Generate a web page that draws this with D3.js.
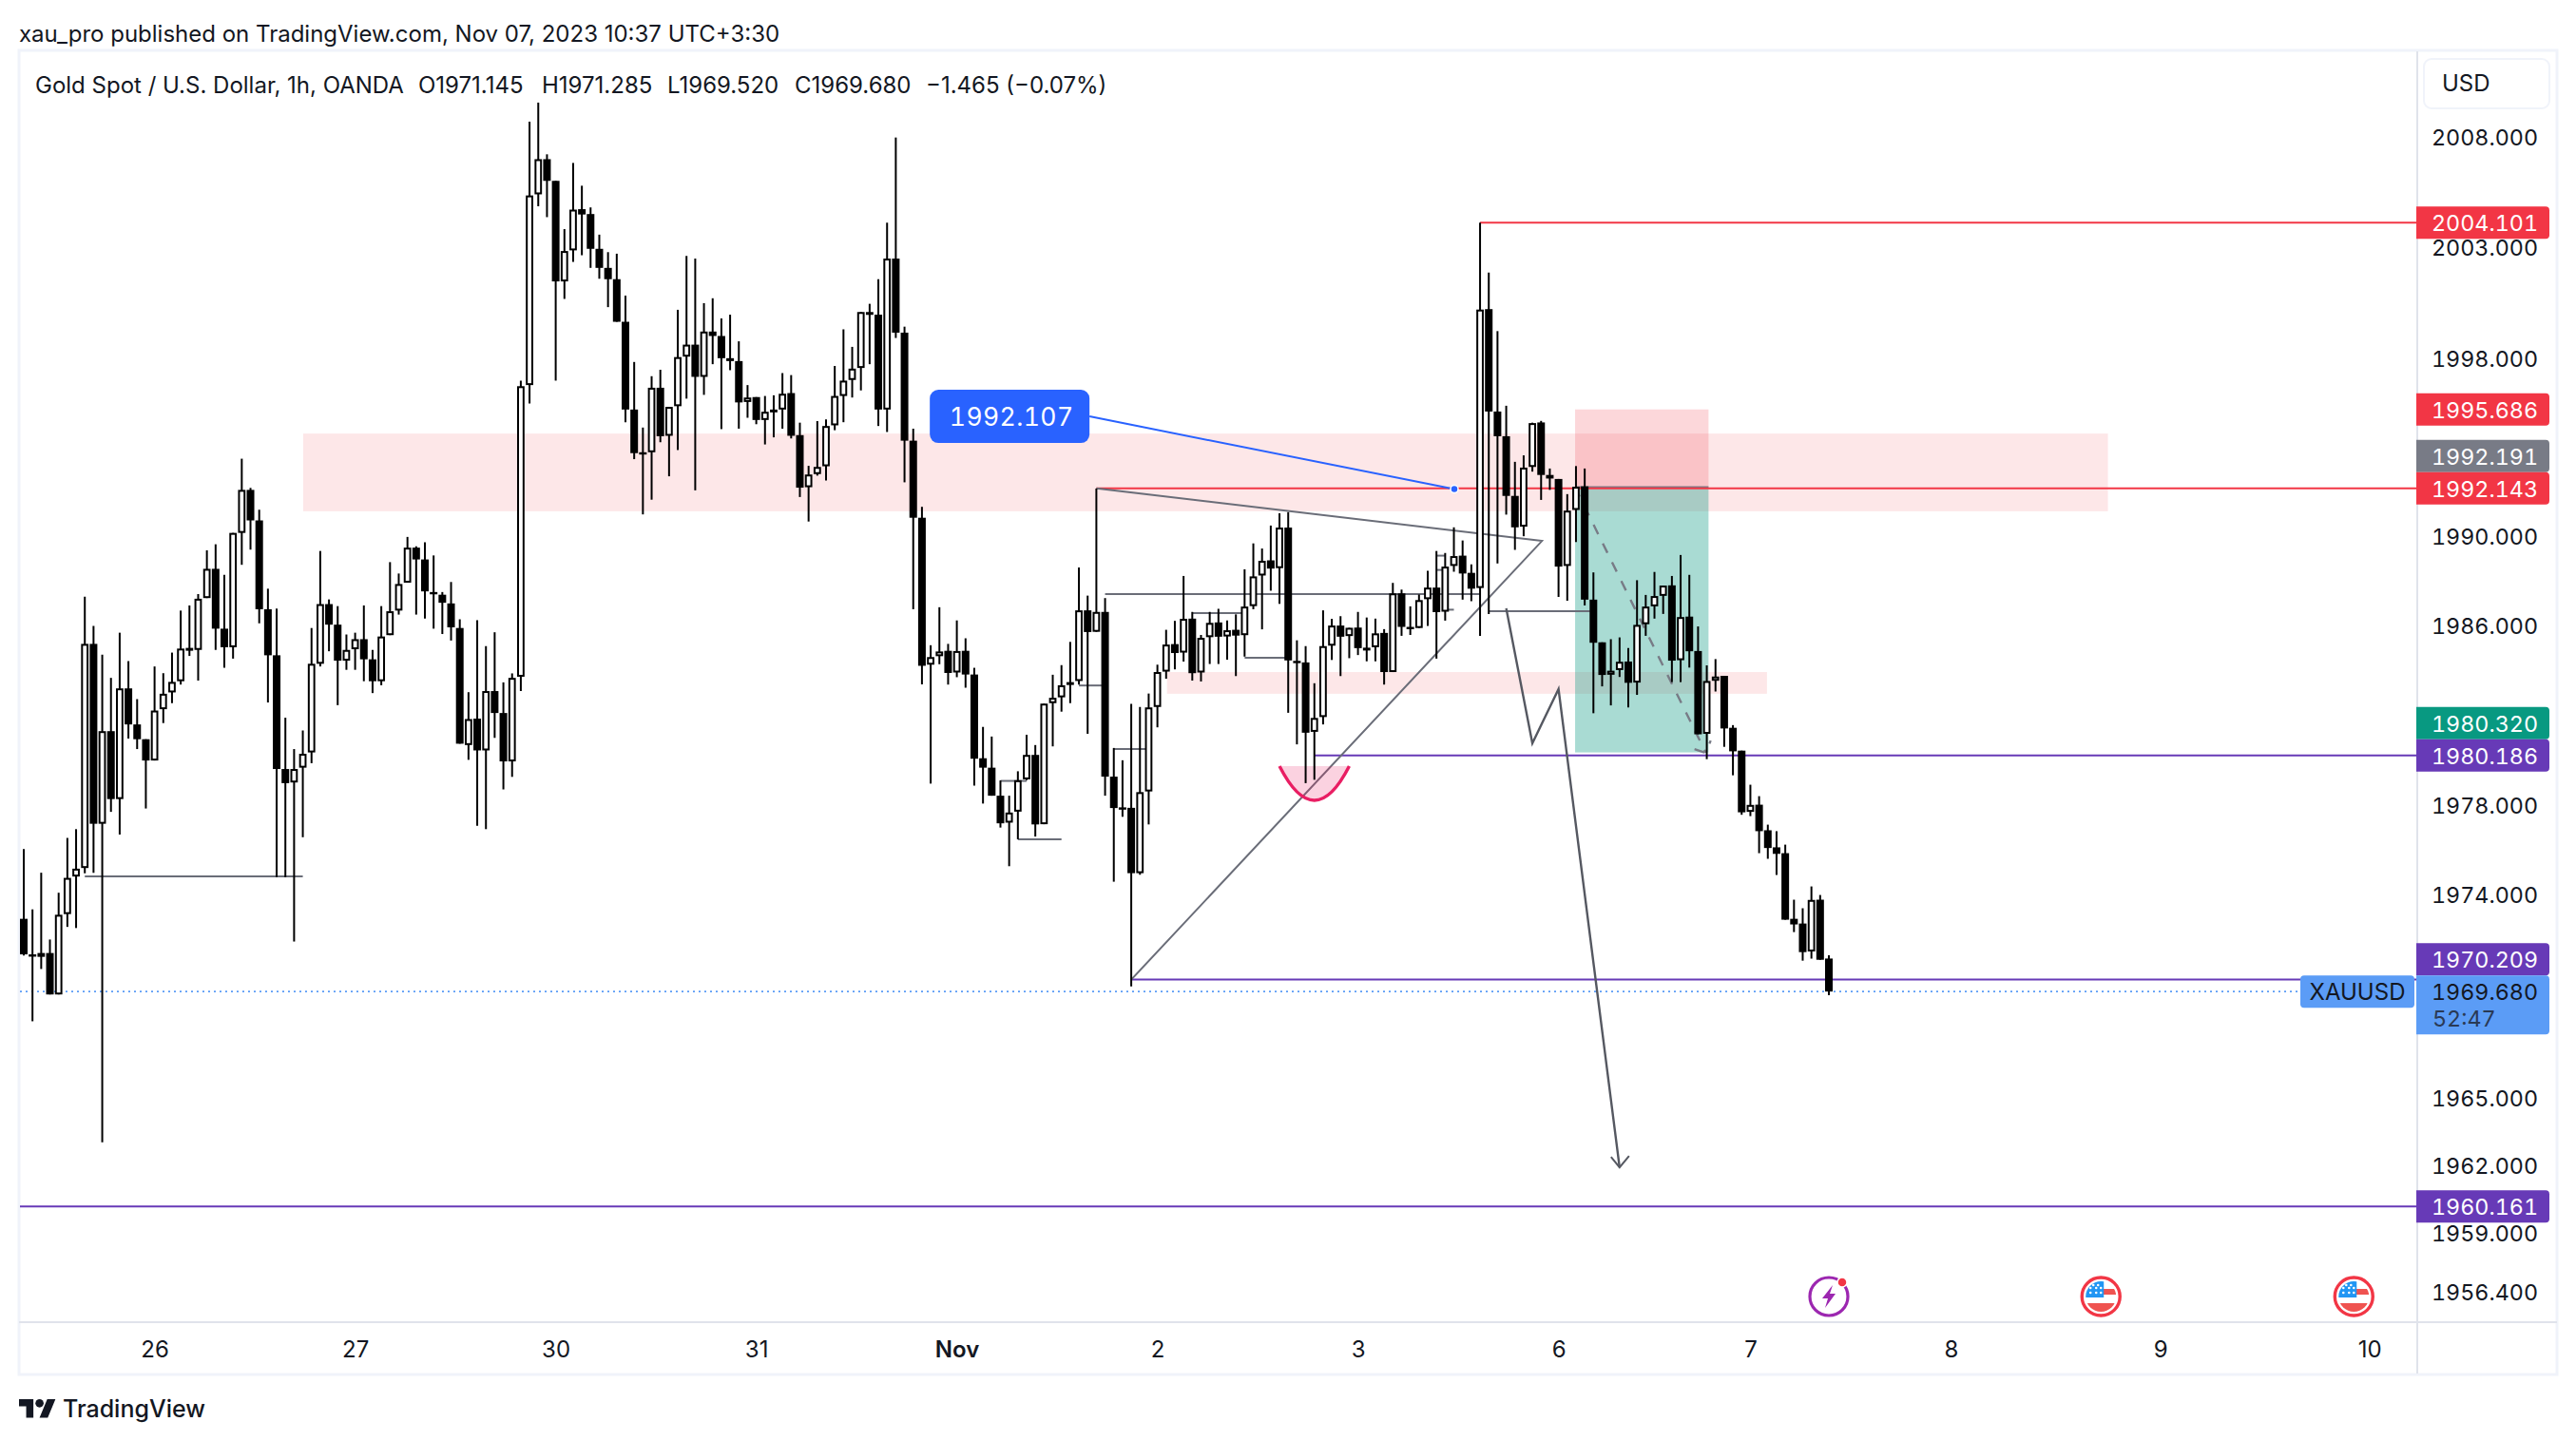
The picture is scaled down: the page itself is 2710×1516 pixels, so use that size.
<!DOCTYPE html>
<html>
<head>
<meta charset="utf-8">
<script src="https://cdn.jsdelivr.net/npm/d3@7/dist/d3.min.js"></script>
<style>
  html, body { margin: 0; padding: 0; background: #fff; }
  svg { display: block; }
  text { font-family: Inter, "Noto Sans", sans-serif; }
  .num { font-variant-numeric: tabular-nums; }
</style>
</head>
<body>
<div id="viz-container"></div>
<script>
// Hourly candles, oldest first
const opens = [
  1972.91,1971.33,1971.22,1971.39,1969.55,1973.12,1974.79,1975.17,1985.17,1977.14,
  1981.27,1978.24,1983.18,1981.57,1980.91,1979.96,1982.25,1983.00,1983.50,1984.90,
  1984.90,1987.22,1988.53,1985.85,1985.02,1990.14,1992.07,1990.70,1986.72,1984.66,
  1979.58,1978.98,1979.64,1980.32,1984.28,1986.95,1986.03,1984.42,1984.93,1985.38,
  1984.48,1983.50,1985.56,1986.66,1987.91,1989.48,1988.95,1987.49,1987.37,1986.98,
  1985.88,1980.65,1981.83,1980.41,1983.06,1982.08,1979.92,1983.70,1996.78,2005.38,
  2006.97,2005.99,2001.45,2002.85,2004.71,2004.49,2002.92,2002.06,2001.55,1999.63,
  1995.68,1993.76,1993.76,1996.66,1994.50,1995.83,1998.06,1998.60,1997.15,1999.19,
  1998.99,1997.99,1997.86,1996.02,1996.24,1995.21,1995.61,1995.68,1996.42,1994.53,
  1992.19,1992.78,1993.13,1994.97,1996.29,1997.01,1997.55,1999.98,1999.95,1995.68,
  2002.48,1999.14,1994.28,1990.82,1984.24,1984.62,1984.86,1983.89,1984.86,1983.80,
  1980.06,1979.64,1978.39,1977.19,1977.68,1979.12,1980.21,1977.12,1982.52,1982.78,
  1983.34,1983.51,1986.67,1985.71,1986.60,1979.24,1977.87,1977.85,1974.94,1978.58,
  1982.35,1983.93,1985.16,1984.78,1986.30,1983.89,1985.47,1986.13,1985.50,1985.80,
  1985.56,1986.86,1988.23,1988.91,1988.56,1990.38,1984.41,1984.34,1981.24,1981.90,
  1985.09,1985.99,1985.52,1985.90,1984.95,1985.02,1985.66,1983.91,1987.43,1985.93,
  1985.88,1987.17,1987.69,1986.61,1988.66,1989.12,1988.35,1987.67,2000.20,1995.59,
  1994.48,1991.80,1990.42,1993.10,1995.10,1992.74,1992.56,1988.66,1991.17,1992.23,
  1987.15,1985.24,1983.79,1984.00,1984.38,1983.44,1986.05,1986.85,1987.32,1987.79,
  1984.44,1986.39,1984.85,1981.15,1983.52,1983.74,1981.42,1980.40,1977.67,1977.99,
  1976.85,1976.09,1975.83,1972.91,1972.70,1971.46,1973.76,1971.145
];
const highs = [
  1976.01,1973.33,1974.96,1971.99,1974.07,1976.51,1976.90,1987.28,1985.97,1984.69,
  1983.65,1985.67,1984.40,1982.70,1980.91,1984.16,1983.86,1984.78,1986.66,1986.89,
  1987.40,1989.36,1989.63,1988.26,1990.14,1993.47,1992.16,1991.18,1987.64,1986.75,
  1981.87,1980.47,1981.30,1985.88,1989.33,1987.16,1986.86,1985.59,1985.67,1986.89,
  1984.90,1986.86,1988.83,1988.32,1989.96,1989.54,1989.72,1989.13,1987.49,1987.94,
  1986.27,1983.01,1986.23,1985.07,1985.69,1983.45,1983.85,1996.98,2008.67,2009.53,
  2007.19,2005.99,2003.81,2006.80,2005.77,2004.79,2003.56,2002.77,2002.70,2000.81,
  1997.82,1994.87,1997.18,1997.47,1995.80,2000.17,2002.60,2002.48,2000.47,2000.69,
  1999.78,1999.95,1998.75,1996.78,1996.24,1996.29,1996.32,1997.32,1997.23,1995.09,
  1993.15,1995.16,1995.24,1997.64,1999.29,1998.50,2000.07,2000.44,2001.55,2004.10,
  2007.95,1999.41,1994.82,1991.31,1985.11,1986.81,1985.17,1986.22,1985.42,1984.10,
  1981.46,1981.03,1979.07,1978.39,1979.48,1981.11,1980.65,1982.50,1983.79,1984.22,
  1985.26,1988.59,1987.33,1992.13,1987.22,1980.52,1979.97,1982.49,1982.35,1982.95,
  1984.24,1985.80,1986.20,1988.21,1986.60,1985.57,1986.60,1986.74,1986.22,1986.49,
  1988.51,1989.67,1989.44,1990.47,1991.02,1991.07,1985.33,1985.07,1983.41,1986.67,
  1986.29,1986.41,1985.89,1986.60,1986.35,1986.30,1985.83,1987.90,1987.60,1986.85,
  1987.38,1988.44,1989.33,1989.24,1990.39,1989.80,1988.73,2004.10,2001.85,1999.21,
  1995.85,1993.33,1993.62,1995.09,1995.17,1993.03,1992.56,1991.88,1993.14,1993.03,
  1988.37,1985.24,1985.38,1985.46,1984.98,1988.02,1987.36,1988.39,1987.78,1988.21,
  1989.15,1988.26,1985.95,1984.21,1984.49,1983.74,1981.54,1980.40,1978.88,1978.37,
  1977.10,1976.81,1976.21,1973.76,1973.38,1974.35,1973.97,1971.285
];
const lows = [
  1971.28,1968.36,1970.68,1969.55,1969.55,1972.55,1972.50,1974.93,1974.96,1963.00,
  1977.67,1976.66,1980.94,1980.47,1977.82,1979.96,1981.63,1982.52,1983.35,1984.63,
  1983.53,1987.22,1984.90,1984.10,1984.51,1988.71,1989.39,1986.09,1982.55,1974.76,
  1974.76,1971.90,1976.54,1979.84,1984.16,1984.84,1982.43,1984.01,1984.01,1983.50,
  1982.97,1983.32,1985.56,1986.48,1987.91,1986.48,1986.30,1985.85,1985.61,1985.32,
  1980.71,1979.99,1977.05,1976.90,1980.97,1978.67,1979.23,1983.06,1995.95,2004.84,
  2004.35,1996.98,2000.66,2002.33,2002.63,2002.06,2001.57,2000.29,1999.63,1995.11,
  1993.45,1990.97,1991.63,1994.21,1992.68,1993.86,1996.17,1992.05,1996.34,1997.72,
  1994.80,1997.45,1994.82,1995.31,1995.02,1994.11,1994.43,1994.82,1994.38,1991.75,
  1990.65,1992.71,1992.49,1994.75,1995.11,1996.22,1996.54,1997.72,1994.94,1994.67,
  1998.90,1992.41,1986.72,1983.36,1978.93,1984.26,1983.35,1983.68,1983.21,1978.84,
  1978.04,1978.39,1976.97,1975.25,1976.45,1979.08,1976.57,1977.12,1980.59,1982.14,
  1982.52,1983.35,1981.15,1985.71,1978.39,1974.56,1977.45,1969.91,1974.87,1977.11,
  1981.44,1983.61,1984.03,1984.38,1983.53,1983.49,1984.27,1984.27,1984.46,1983.73,
  1984.60,1986.72,1985.82,1987.55,1986.96,1982.09,1980.68,1978.95,1979.10,1981.57,
  1984.45,1983.73,1984.53,1984.67,1984.39,1984.39,1983.35,1983.91,1985.53,1985.57,
  1985.88,1985.97,1984.51,1986.21,1988.40,1987.15,1987.08,1985.53,1986.51,1988.77,
  1990.96,1989.38,1989.99,1992.89,1991.62,1992.07,1987.27,1987.10,1989.73,1986.89,
  1982.07,1983.27,1982.42,1983.69,1982.33,1982.89,1985.53,1986.30,1986.51,1983.46,
  1983.46,1984.11,1981.13,1980.02,1983.04,1980.57,1979.30,1977.54,1977.48,1975.83,
  1975.58,1974.86,1972.87,1972.32,1971.05,1971.14,1971.09,1969.52
];
const closes = [
  1971.33,1971.25,1971.39,1969.55,1973.09,1974.73,1975.14,1985.17,1977.14,1981.27,
  1978.24,1983.18,1981.57,1980.91,1979.96,1982.19,1982.94,1983.47,1984.96,1984.99,
  1987.19,1988.53,1985.85,1985.02,1990.14,1992.07,1990.70,1986.72,1984.66,1979.58,
  1978.95,1979.58,1980.26,1984.28,1986.95,1986.03,1984.42,1984.90,1985.38,1984.48,
  1983.50,1985.50,1986.63,1987.85,1989.48,1988.95,1987.52,1987.40,1987.01,1985.91,
  1980.71,1981.81,1980.41,1983.06,1982.08,1979.92,1983.65,1996.73,2005.33,2006.97,
  2005.99,2001.45,2002.82,2004.69,2004.47,2002.92,2002.06,2001.55,1999.63,1995.68,
  1993.72,1993.72,1996.66,1994.48,1995.80,1998.04,1998.60,1997.15,1999.19,1998.99,
  1997.99,1997.86,1996.00,1996.22,1995.21,1995.58,1995.68,1996.39,1994.50,1992.17,
  1992.76,1993.10,1994.94,1996.29,1996.98,1997.52,2000.07,2000.07,1995.68,2002.48,
  1999.14,1994.28,1990.82,1984.19,1984.58,1984.83,1983.87,1984.85,1983.80,1980.04,
  1979.64,1978.39,1977.16,1977.64,1979.08,1980.21,1977.11,1982.50,1982.76,1983.32,
  1983.46,1986.67,1985.70,1986.60,1979.24,1977.84,1977.82,1974.94,1978.55,1982.33,
  1983.91,1985.14,1984.76,1986.29,1983.86,1985.44,1986.11,1985.49,1985.78,1985.54,
  1986.84,1988.19,1988.89,1988.54,1990.38,1984.43,1984.34,1981.20,1981.86,1985.07,
  1985.99,1985.49,1985.89,1984.98,1985.00,1985.64,1983.91,1987.43,1985.93,1985.86,
  1987.13,1987.69,1986.59,1988.63,1989.10,1988.32,1987.64,2000.18,1995.59,1994.48,
  1991.80,1990.39,1993.07,1995.07,1992.74,1992.58,1988.63,1991.14,1992.21,1987.15,
  1985.22,1983.78,1983.97,1984.37,1983.43,1986.02,1986.84,1987.31,1987.78,1984.42,
  1986.37,1984.84,1981.13,1983.51,1983.71,1981.39,1980.37,1977.65,1977.98,1976.81,
  1976.06,1975.80,1972.87,1972.66,1971.43,1973.75,1971.09,1969.68
];

// Axis labels (the ticks that the price tags hide are left out)
const priceTicks = [2008, 2003, 1998, 1990, 1986, 1978, 1974, 1965, 1962, 1959, 1956.4];
const dayBars = [15, 38, 61, 84, 107, 130, 153, 176, 198, 221, 245, 269];
const dayLabels = ['26', '27', '30', '31', 'Nov', '2', '3', '6', '7', '8', '9', '10'];

// Price tags on the right scale; a tag marked true sits on top of the next one
const tagPrices = [2004.101, 1995.686, 1992.191, 1992.143, 1980.32, 1980.186, 1970.209, 1960.161];
const tagColors = ['#f23645', '#f23645', '#787b86', '#f23645', '#089981', '#673ab7', '#673ab7', '#673ab7'];
const tagPushed = [false, false, true, false, true, false, true, false];

// Drawings: bar index + price
const zones = [[32.05, 239.0, 1994.6, 1991.11], [131.1, 199.9, 1983.91, 1982.94]];
const redLevels = [[167, 2004.101], [123, 1992.143]];
const purpleLevels = [[148, 1980.186], [127, 1970.209], [-3, 1960.161]];
const grayRays = [
  [7, 32, 1974.8], [124, 167, 1987.4], [134, 140, 1986.55], [140, 145, 1984.55],
  [121, 124, 1983.31], [125, 129, 1980.47], [112, 115, 1979.05], [114, 119, 1976.45],
  [168, 179.6, 1986.63], [162, 163, 1989.12], [162, 163, 1988.48], [163, 164, 1986.7]
];
const trianglePath = [[123, 1992.143], [174.1, 1989.78], [127, 1970.209]];
const arrowPath = [[170, 1986.76], [173, 1980.73], [176, 1983.15], [183, 1961.89]];
const positionBars = [177.9, 193.2];
const positionPrices = [1995.686, 1992.191, 1980.32];
const dashedPath = [[177.9, 1992.19], [192.9, 1980.3]];
const arcBars = [144, 148, 152];
const arcPrices = [1979.71, 1976.66];
const calloutAnchor = [164.05, 1992.107];
const calloutBox = [103.9, 1995.37];
const lightningBar = 207;
const flagBars = [238.2, 267.2];

const lastPrice = closes[closes.length - 1];

const drawViz = () => {
  const W = 2710, H = 1516;
  const pane = { left: 21, right: 2542, top: 55, bottom: 1390 };

  const x = d3.scaleLinear().domain([0, 207]).range([25, 1924]);
  const y = d3.scaleLog().domain([1956.4, 2008]).range([1359, 143.5]);

  const svg = d3.select('#viz-container').append('svg')
    .attr('width', W).attr('height', H).style('background', '#fff');

  svg.append('defs').append('clipPath').attr('id', 'pane-clip')
    .append('rect')
    .attr('x', pane.left).attr('y', pane.top)
    .attr('width', pane.right - pane.left).attr('height', pane.bottom - pane.top);

  // --- frame ---
  const frame = svg.append('g').attr('fill', 'none');
  frame.append('rect').attr('x', 20).attr('y', 53).attr('width', 2670).attr('height', 1393)
    .attr('stroke', '#f0f3fa').attr('stroke-width', 3);
  frame.append('line').attr('x1', 2543).attr('x2', 2543).attr('y1', 54).attr('y2', 1445)
    .attr('stroke', '#e0e3eb').attr('stroke-width', 2);
  frame.append('line').attr('x1', 20).attr('x2', 2690).attr('y1', 1391).attr('y2', 1391)
    .attr('stroke', '#e0e3eb').attr('stroke-width', 2);

  const chart = svg.append('g').attr('clip-path', 'url(#pane-clip)');
  const lineGen = d3.line().x(d => x(d[0])).y(d => y(d[1]));

  // --- zones ---
  chart.selectAll('.zone').data(zones).enter().append('rect')
    .attr('class', 'zone')
    .attr('x', d => x(d[0])).attr('width', d => x(d[1]) - x(d[0]))
    .attr('y', d => y(d[2])).attr('height', d => y(d[3]) - y(d[2]))
    .attr('fill', 'rgba(242,54,69,0.12)');

  // --- position tool ---
  chart.append('rect')
    .attr('x', x(positionBars[0])).attr('width', x(positionBars[1]) - x(positionBars[0]))
    .attr('y', y(positionPrices[0])).attr('height', y(positionPrices[1]) - y(positionPrices[0]))
    .attr('fill', 'rgba(242,54,69,0.2)');
  chart.append('rect')
    .attr('x', x(positionBars[0])).attr('width', x(positionBars[1]) - x(positionBars[0]))
    .attr('y', y(positionPrices[1])).attr('height', y(positionPrices[2]) - y(positionPrices[1]))
    .attr('fill', 'rgba(8,153,129,0.35)');
  chart.append('line')
    .attr('x1', x(positionBars[0])).attr('x2', x(positionBars[1]))
    .attr('y1', y(positionPrices[1])).attr('y2', y(positionPrices[1]))
    .attr('stroke', '#787b86').attr('stroke-width', 2);

  // --- level lines ---
  chart.selectAll('.red-level').data(redLevels).enter().append('line')
    .attr('x1', d => x(d[0])).attr('x2', pane.right)
    .attr('y1', d => y(d[1])).attr('y2', d => y(d[1]))
    .attr('stroke', '#f23645').attr('stroke-width', 2);
  chart.selectAll('.purple-level').data(purpleLevels).enter().append('line')
    .attr('x1', d => x(d[0])).attr('x2', pane.right)
    .attr('y1', d => y(d[1])).attr('y2', d => y(d[1]))
    .attr('stroke', '#673ab7').attr('stroke-width', 2);

  // --- gray drawings ---
  chart.selectAll('.ray').data(grayRays).enter().append('line')
    .attr('x1', d => x(d[0])).attr('x2', d => x(d[1]))
    .attr('y1', d => y(d[2])).attr('y2', d => y(d[2]))
    .attr('stroke', '#6a6d78').attr('stroke-width', 2);
  chart.append('path').attr('d', lineGen(trianglePath))
    .attr('fill', 'none').attr('stroke', '#6a6d78').attr('stroke-width', 2);
  chart.append('path').attr('d', lineGen(arrowPath))
    .attr('fill', 'none').attr('stroke', '#555861').attr('stroke-width', 2.4);

  // arrow head of the forecast line
  const tip = arrowPath[arrowPath.length - 1];
  chart.append('path')
    .attr('d', `M${x(tip[0]) - 9},${y(tip[1]) - 11}L${x(tip[0])},${y(tip[1])}L${x(tip[0]) + 10},${y(tip[1]) - 12}`)
    .attr('fill', 'none').attr('stroke', '#555861').attr('stroke-width', 2);

  // dashed path inside the position tool
  chart.append('path').attr('d', lineGen(dashedPath))
    .attr('fill', 'none').attr('stroke', '#787b86').attr('stroke-width', 2.4)
    .attr('stroke-dasharray', '11 11');
  const dEnd = dashedPath[1];
  chart.append('path')
    .attr('d', `M${x(dEnd[0]) - 12},${y(dEnd[1]) - 4}L${x(dEnd[0])},${y(dEnd[1])}L${x(dEnd[0]) + 5},${y(dEnd[1]) - 13}`)
    .attr('fill', 'none').attr('stroke', '#787b86').attr('stroke-width', 2.4)
    .attr('stroke-dasharray', '11 12');

  // pink arc under the low
  chart.append('path')
    .attr('d', `M${x(arcBars[0])},${y(arcPrices[0])}Q${x(arcBars[1])},${y(arcPrices[1])} ${x(arcBars[2])},${y(arcPrices[0])}`)
    .attr('fill', 'rgba(233,30,99,0.2)').attr('stroke', '#e91e63').attr('stroke-width', 3.4);

  // --- last price line ---
  chart.append('line')
    .attr('x1', pane.left).attr('x2', 2420)
    .attr('y1', y(lastPrice)).attr('y2', y(lastPrice))
    .attr('stroke', '#5b9cf6').attr('stroke-width', 1.6).attr('stroke-dasharray', '2 4');

  // --- candles ---
  const bars = d3.range(opens.length);
  chart.append('g').selectAll('line').data(bars).enter().append('line')
    .attr('x1', i => x(i)).attr('x2', i => x(i))
    .attr('y1', i => y(highs[i])).attr('y2', i => y(lows[i]))
    .attr('stroke', '#000').attr('stroke-width', 2);
  chart.append('g').selectAll('rect').data(bars).enter().append('rect')
    .attr('x', i => x(i) - (closes[i] >= opens[i] ? 2.9 : 4))
    .attr('width', i => closes[i] >= opens[i] ? 5.8 : 8)
    .attr('y', i => {
      const t = y(Math.max(opens[i], closes[i]));
      return closes[i] >= opens[i] ? t + 1 : t;
    })
    .attr('height', i => {
      const h = Math.abs(y(opens[i]) - y(closes[i]));
      return closes[i] >= opens[i] ? Math.max(h - 2, 1) : Math.max(h, 2.4);
    })
    .attr('fill', i => closes[i] >= opens[i] ? '#fff' : '#000')
    .attr('stroke', i => closes[i] >= opens[i] ? '#000' : 'none')
    .attr('stroke-width', 2);

  // --- callout ---
  const boxX = x(calloutBox[0]), boxY = y(calloutBox[1]);
  chart.append('line')
    .attr('x1', boxX + 168).attr('y1', boxY)
    .attr('x2', x(calloutAnchor[0])).attr('y2', y(calloutAnchor[1]))
    .attr('stroke', '#2962ff').attr('stroke-width', 2);
  chart.append('circle')
    .attr('cx', x(calloutAnchor[0])).attr('cy', y(calloutAnchor[1])).attr('r', 4)
    .attr('fill', '#2962ff').attr('stroke', '#fff').attr('stroke-width', 1.5);
  chart.append('rect')
    .attr('x', boxX).attr('y', boxY - 28).attr('width', 168).attr('height', 56).attr('rx', 9)
    .attr('fill', '#2962ff');
  chart.append('text')
    .attr('class', 'num')
    .attr('x', boxX + 86).attr('y', boxY + 1).attr('dy', '0.35em')
    .attr('text-anchor', 'middle').attr('fill', '#fff')
    .style('font-size', '26.5px').style('letter-spacing', '0.4px')
    .text(d3.format('.3f')(calloutAnchor[1]));

  // --- event icons ---
  const iconY = 1364;
  flagBars.forEach((b, idx) => {
    const g = chart.append('g').attr('transform', `translate(${x(b)},${iconY})`);
    const clipId = `flag-${idx}`;
    g.append('clipPath').attr('id', clipId).append('circle').attr('r', 16);
    g.append('circle').attr('r', 20).attr('fill', '#fff').attr('stroke', '#f23645').attr('stroke-width', 3.4);
    const inner = g.append('g').attr('clip-path', `url(#${clipId})`);
    inner.append('rect').attr('x', -17).attr('y', -17).attr('width', 34).attr('height', 34).attr('fill', '#fff');
    inner.append('rect').attr('x', 0).attr('y', -8).attr('width', 17).attr('height', 6).attr('fill', '#ef5350');
    inner.append('rect').attr('x', -17).attr('y', 7).attr('width', 34).attr('height', 10).attr('fill', '#ef5350');
    inner.append('rect').attr('x', -17).attr('y', -17).attr('width', 20).attr('height', 18).attr('fill', '#2196f3');
    [[-11, -9], [-5, -9], [0, -9], [-11, -4], [-5, -4], [0, -4], [-8, -12], [-3, -12]].forEach(p => {
      inner.append('circle').attr('cx', p[0]).attr('cy', p[1]).attr('r', 1.3).attr('fill', '#fff');
    });
  });
  const bolt = chart.append('g').attr('transform', `translate(${x(lightningBar)},${iconY})`);
  bolt.append('circle').attr('r', 20).attr('fill', '#fff').attr('stroke', '#9c27b0').attr('stroke-width', 3.2);
  bolt.append('path').attr('d', 'M4,-12L-7,2L-1,2L-4,12L7,-3L1,-3Z').attr('fill', '#9c27b0');
  bolt.append('circle').attr('cx', 14).attr('cy', -15).attr('r', 5)
    .attr('fill', '#f23645').attr('stroke', '#fff').attr('stroke-width', 1.5);

  // --- price axis ---
  const priceAxis = svg.append('g')
    .attr('transform', `translate(${pane.right + 2},0)`)
    .call(d3.axisRight(y).tickValues(priceTicks).tickSize(0).tickFormat(d3.format('.3f')));
  priceAxis.select('.domain').remove();
  priceAxis.selectAll('text')
    .attr('class', 'num')
    .attr('x', 126).attr('dy', '0.38em').attr('text-anchor', 'end')
    .attr('fill', '#131722')
    .style('font-family', 'Inter').style('font-size', '23.3px');

  // --- time axis ---
  const timeAxis = svg.append('g')
    .attr('transform', `translate(0,${pane.bottom + 1})`)
    .call(d3.axisBottom(x).tickValues(dayBars).tickSize(0).tickFormat((d, i) => dayLabels[i]));
  timeAxis.select('.domain').remove();
  timeAxis.selectAll('text')
    .attr('y', 29).attr('dy', '0.35em')
    .attr('fill', '#131722')
    .style('font-family', 'Inter').style('font-size', '24px')
    .style('font-weight', (d, i) => dayLabels[i] === 'Nov' ? 600 : 400);

  // --- USD button ---
  svg.append('rect').attr('x', 2550).attr('y', 62).attr('width', 132).attr('height', 52).attr('rx', 8)
    .attr('fill', '#fff').attr('stroke', '#f0f3fa').attr('stroke-width', 2);
  svg.append('text').attr('x', 2569).attr('y', 88).attr('dy', '0.35em')
    .attr('fill', '#131722').style('font-size', '24px').text('USD');

  // --- price tags ---
  const tagY = i => tagPushed[i] ? y(tagPrices[i + 1]) - 34
    : y(tagPrices[i]);
  const tagShape = (x0, x1, y0, y1) =>
    `M${x0},${y0}H${x1 - 4}Q${x1},${y0} ${x1},${y0 + 4}V${y1 - 4}Q${x1},${y1} ${x1 - 4},${y1}H${x0}Z`;
  const tags = svg.append('g');
  tagPrices.forEach((p, i) => {
    const cy = i === 6 ? y(lastPrice) - 34 : tagY(i);
    tags.append('path').attr('d', tagShape(2542, 2682, cy - 17, cy + 17)).attr('fill', tagColors[i]);
    tags.append('text').attr('class', 'num').attr('x', 2670).attr('y', cy).attr('dy', '0.38em')
      .attr('text-anchor', 'end').attr('fill', '#fff')
      .style('font-size', '23.3px').text(d3.format('.3f')(p));
  });

  // last price tag with countdown and symbol
  const lastY = y(lastPrice);
  tags.append('path').attr('d', tagShape(2542, 2682, lastY - 17, lastY + 45)).attr('fill', '#5b9cf6');
  tags.append('text').attr('class', 'num').attr('x', 2670).attr('y', lastY).attr('dy', '0.38em')
    .attr('text-anchor', 'end').attr('fill', '#131722')
    .style('font-size', '23.3px').text(d3.format('.3f')(lastPrice));
  tags.append('text').attr('class', 'num').attr('x', 2559).attr('y', lastY + 28).attr('dy', '0.36em')
    .attr('fill', '#2a3a55').style('font-size', '23.3px').text('52:47');
  tags.append('rect').attr('x', 2420).attr('y', lastY - 17).attr('width', 120).attr('height', 34).attr('rx', 4)
    .attr('fill', '#5b9cf6');
  tags.append('text').attr('x', 2480).attr('y', lastY).attr('dy', '0.36em')
    .attr('text-anchor', 'middle').attr('fill', '#131722')
    .style('font-size', '24px').text('XAUUSD');

  // --- header + legend ---
  svg.append('text').attr('x', 20).attr('y', 36).attr('dy', '0.35em')
    .attr('fill', '#131722').style('font-size', '24px')
    .text('xau_pro published on TradingView.com, Nov 07, 2023 10:37 UTC+3:30');

  const legendItems = [
    [37, 'Gold Spot / U.S. Dollar, 1h, OANDA'],
    [440, 'O1971.145'], [570, 'H1971.285'], [702, 'L1969.520'], [836, 'C1969.680'],
    [974, '\u22121.465 (\u22120.07%)']
  ];
  svg.selectAll('.legend').data(legendItems).enter().append('text')
    .attr('class', 'legend')
    .attr('x', d => d[0]).attr('y', 90).attr('dy', '0.35em')
    .attr('fill', '#131722').style('font-size', '24px')
    .text(d => d[1]);

  // --- footer logo ---
  const logo = svg.append('g').attr('transform', 'translate(20,1472) scale(1.08)');
  logo.append('path').attr('d', 'M14 18H7V7H0V0h14v18zM28 18h-8L27.5 0h8L28 18z').attr('fill', '#131722');
  logo.append('circle').attr('cx', 20).attr('cy', 4).attr('r', 4).attr('fill', '#131722');
  svg.append('text').attr('x', 66).attr('y', 1482).attr('dy', '0.35em')
    .attr('fill', '#131722').style('font-size', '25px').style('font-weight', 500)
    .text('TradingView');
};

drawViz();
</script>
</body>
</html>
